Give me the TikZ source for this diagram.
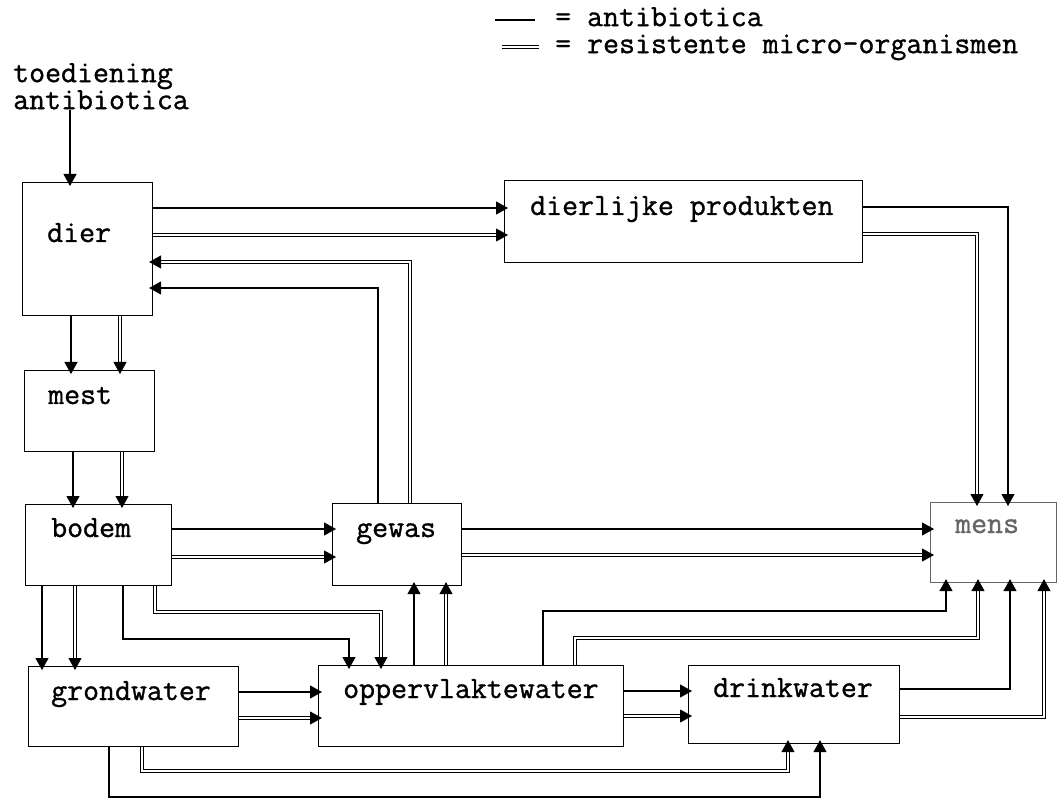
\documentclass[tikz,border=0pt]{standalone}
\usepackage{fontspec}
\setmonofont{Latin Modern Mono}[FakeBold=1]
\usetikzlibrary{arrows.meta}
\begin{document}
\begin{tikzpicture}[x=1pt,y=-1pt,
  box/.style={draw, line width=1.1pt, anchor=north west, inner sep=0pt},
  tip/.style={-{Triangle[length=12pt,width=13pt]}, shorten >=-4pt},
  sl/.style={line width=1.1pt, tip},
  dl/.style={line width=1.0pt, double, double distance=1.8pt, tip},
  txt/.style={anchor=base west, inner sep=0pt, font=\ttfamily\fontsize{31}{26}\selectfont},
  leg/.style={anchor=north west, inner sep=0pt, align=left, font=\ttfamily\fontsize{31}{27}\selectfont}]
\clip (0,0) rectangle (1058,799);
% legend
\coordinate (la1) at (495,20); \coordinate (la2) at (535,20);
\coordinate (lb1) at (502,47); \coordinate (lb2) at (539,47);
\draw[line width=1.1pt] (la1) -- (la2);
\draw[line width=1.0pt, double, double distance=1.8pt] (lb1) -- (lb2);
\node[leg] (leg) at (555,7) {= antibiotica\\= resistente micro-organismen};
% top-left text
\node[txt, align=left, anchor=north west] (toed) at (13,63) {toediening\\antibiotica};
% boxes
\node[box, minimum width=130pt, minimum height=133pt] (dier) at (22,182) {};
\node[box, minimum width=130pt, minimum height=81pt] (mest) at (24,370) {};
\node[box, minimum width=146pt, minimum height=81pt] (bodem) at (25,504) {};
\node[box, minimum width=210pt, minimum height=80pt] (grond) at (28,666) {};
\node[box, minimum width=129pt, minimum height=82pt] (gewas) at (332,503) {};
\node[box, minimum width=305pt, minimum height=81pt] (opp) at (318,665) {};
\node[box, minimum width=211pt, minimum height=78pt] (drink) at (688,665) {};
\node[box, minimum width=358pt, minimum height=82pt] (dierl) at (504,180) {};
\node[box, draw=black!60, minimum width=126pt, minimum height=80pt] (mens) at (930,502) {};
% box texts
\node[txt] (tdier) at (47,242) {dier};
\node[txt] (tmest) at (48,404) {mest};
\node[txt] (tbodem) at (51,537) {bodem};
\node[txt] (tgewas) at (356,537) {gewas};
\node[txt] (tgrond) at (51,700) {grondwater};
\node[txt] (topp) at (343,698) {oppervlaktewater};
\node[txt] (tdrink) at (713,697) {drinkwater};
\node[txt] (tdierl) at (530,215) {dierlijke produkten};
\node[txt, text=black!60] (tmens) at (955,533) {mens};
% connectors
\draw[sl] (toed.south -| 70,0) -- (dier.north -| 70,0);
\draw[sl] (dier.east |- 0,208) -- (dierl.west |- 0,208);
\draw[dl] (dier.east |- 0,235) -- (dierl.west |- 0,235);
\draw[sl] (gewas.north -| 378,0) |- (dier.east |- 0,288);
\draw[dl] (gewas.north -| 410,0) |- (dier.east |- 0,262);
\draw[sl] (dier.south -| 71,0) -- (mest.north -| 71,0);
\draw[dl] (dier.south -| 120,0) -- (mest.north -| 120,0);
\draw[sl] (mest.south -| 73,0) -- (bodem.north -| 73,0);
\draw[dl] (mest.south -| 122,0) -- (bodem.north -| 122,0);
\draw[sl] (bodem.east |- 0,529) -- (gewas.west |- 0,529);
\draw[dl] (bodem.east |- 0,557) -- (gewas.west |- 0,557);
\draw[sl] (bodem.south -| 42,0) -- (grond.north -| 42,0);
\draw[dl] (bodem.south -| 75,0) -- (grond.north -| 75,0);
\draw[sl] (bodem.south -| 123,0) |- (349,639) -- (opp.north -| 349,0);
\draw[dl] (bodem.south -| 155,0) |- (381,612) -- (opp.north -| 381,0);
\draw[sl] (opp.north -| 414,0) -- (gewas.south -| 414,0);
\draw[dl] (opp.north -| 446,0) -- (gewas.south -| 446,0);
\draw[sl] (grond.east |- 0,692) -- (opp.west |- 0,692);
\draw[dl] (grond.east |- 0,718) -- (opp.west |- 0,718);
\draw[sl] (opp.east |- 0,691) -- (drink.west |- 0,691);
\draw[dl] (opp.east |- 0,716) -- (drink.west |- 0,716);
\draw[sl] (gewas.east |- 0,529) -- (mens.west |- 0,529);
\draw[dl] (gewas.east |- 0,555) -- (mens.west |- 0,555);
\draw[sl] (dierl.east |- 0,207) -| (mens.north -| 1008,0);
\draw[dl] (dierl.east |- 0,234) -| (mens.north -| 977,0);
\draw[sl] (opp.north -| 543,0) |- (946,611) -- (mens.south -| 946,0);
\draw[dl] (opp.north -| 575,0) |- (978,638) -- (mens.south -| 978,0);
\draw[sl] (drink.east |- 0,689) -| (mens.south -| 1010,0);
\draw[dl] (drink.east |- 0,717) -| (mens.south -| 1044,0);
\draw[dl] (grond.south -| 142,0) |- (788,771) -- (drink.south -| 788,0);
\draw[sl] (grond.south -| 109,0) |- (820,797) -- (drink.south -| 820,0);
\end{tikzpicture}
\end{document}
